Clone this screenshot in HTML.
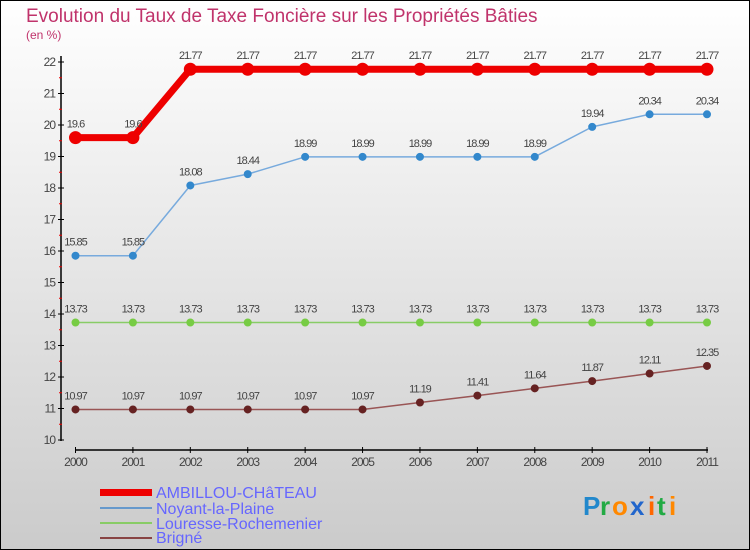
<!DOCTYPE html>
<html><head><meta charset="utf-8"><style>
body{margin:0;}
svg{display:block;font-family:"Liberation Sans",sans-serif;}
</style></head><body>
<svg id="c" width="750" height="550" xmlns="http://www.w3.org/2000/svg">
<defs><linearGradient id="bg" x1="0" y1="0" x2="0" y2="1"><stop offset="0" stop-color="#ffffff"/><stop offset="1" stop-color="#cbcbcb"/></linearGradient></defs>
<rect x="0.5" y="0.5" width="749" height="549" fill="url(#bg)" stroke="#000"/>
<text x="26" y="22" font-size="19" fill="#c0336b">Evolution du Taux de Taxe Foncière sur les Propriétés Bâties</text>
<text x="26" y="39" font-size="12" fill="#c0336b">(en %)</text>
<g id="axes"></g>
<g id="series"></g>
<g>
<rect x="100" y="489" width="52" height="7" fill="#e00"/>
<text x="156" y="498" font-size="16" fill="#6666ff">AMBILLOU-CHâTEAU</text>
<line x1="100" y1="508" x2="152" y2="508" stroke="#6699cc" stroke-width="2"/>
<text x="156" y="514" font-size="16" fill="#6666ff">Noyant-la-Plaine</text>
<line x1="100" y1="523" x2="152" y2="523" stroke="#88cc66" stroke-width="2"/>
<text x="156" y="529" font-size="16" fill="#6666ff">Louresse-Rochemenier</text>
<line x1="100" y1="538" x2="152" y2="538" stroke="#884444" stroke-width="2"/>
<text x="156" y="543" font-size="16" fill="#6666ff">Brigné</text>
</g>
<g font-size="26" font-weight="bold">
<text x="583" y="515" fill="#2288cc">P</text><text x="600" y="515" fill="#22aa44">r</text><text x="612" y="515" fill="#ff8800">o</text><text x="630" y="515" fill="#2266cc">x</text><text x="648" y="515" fill="#ff6600">i</text><text x="657" y="515" fill="#22aa44">t</text><text x="669" y="515" fill="#ff8800">i</text>
</g>
</svg>
<script>
const years=["2000","2001","2002","2003","2004","2005","2006","2007","2008","2009","2010","2011"];
const ambillou=[19.6,19.6,21.77,21.77,21.77,21.77,21.77,21.77,21.77,21.77,21.77,21.77];
const noyant=[15.85,15.85,18.08,18.44,18.99,18.99,18.99,18.99,18.99,19.94,20.34,20.34];
const louresse=[13.73,13.73,13.73,13.73,13.73,13.73,13.73,13.73,13.73,13.73,13.73,13.73];
const brigne=[10.97,10.97,10.97,10.97,10.97,10.97,11.19,11.41,11.64,11.87,12.11,12.35];
const yTicks=[10,11,12,13,14,15,16,17,18,19,20,21,22];
const NS="http://www.w3.org/2000/svg";
const xs=i=>75.5+i*(707-75.5)/11;
const ys=v=>440-(v-10)*(440-62)/12;
function mk(tag,attrs,parent){const e=document.createElementNS(NS,tag);for(const k in attrs)e.setAttribute(k,attrs[k]);parent.appendChild(e);return e;}
const ax=document.getElementById('axes');
let yl=mk('line',{x1:61,y1:56,x2:61,y2:441,stroke:'#000','stroke-width':1.5},ax);


yTicks.forEach(t=>{
 const y=ys(t);
 mk('line',{x1:58,y1:y,x2:64,y2:y,stroke:'#000'},ax);
 if(t<22)mk('line',{x1:59,y1:y-15.75,x2:62,y2:y-15.75,stroke:'#e00'},ax);
 const tx=mk('text',{x:55,y:y+4,'font-size':12,fill:'#444','text-anchor':'end','letter-spacing':'-1'},ax);tx.textContent=t;
 
 
});
let xl=mk('line',{x1:75,y1:450,x2:708,y2:450,stroke:'#000','stroke-width':1.5},ax);


years.forEach((yr,i)=>{
 const x=xs(i);
 mk('line',{x1:x,y1:447,x2:x,y2:453,stroke:'#000'},ax);
 const tx=mk('text',{x:x,y:466,'font-size':12,fill:'#444','text-anchor':'middle','letter-spacing':'-1'},ax);tx.textContent=yr;
 
 
});
const sg=document.getElementById('series');
function series(vals,color,lw,r,name,dot){
 const g=mk('g',{},sg);
 
 
 mk('polyline',{points:vals.map((v,i)=>xs(i)+','+ys(v)).join(' '),fill:'none',stroke:color,'stroke-width':lw,'stroke-linejoin':'round'},g);
 vals.forEach((v,i)=>{
  const c=mk('circle',{cx:xs(i),cy:ys(v),r:r,fill:dot,stroke:dot},g);
  
  
  const t=mk('text',{x:xs(i),y:ys(v)-10,'font-size':11,fill:'#444','text-anchor':'middle','letter-spacing':'-1'},g);
  t.textContent=String(v);
  
  
 });
}
series(brigne,'#995555',1.5,3.5,'brigne','#662222');
series(louresse,'#88cc66',1.5,3.5,'louresse','#77cc44');
series(noyant,'#77aadd',1.5,3.5,'noyant','#3388cc');
series(ambillou,'#e00',7,6,'ambillou','#e00');
</script>
</body></html>
